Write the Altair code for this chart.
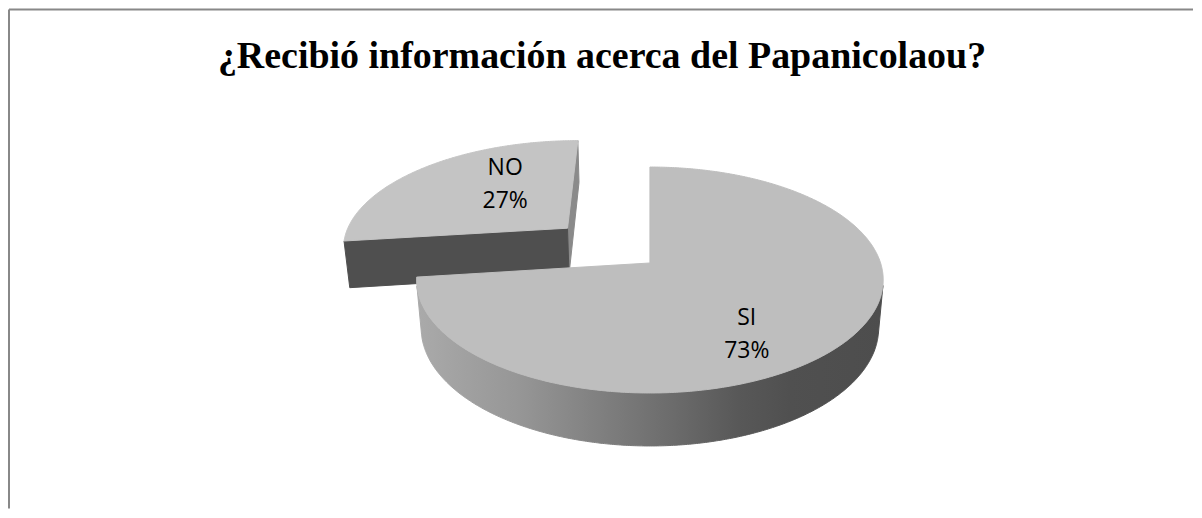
import numpy as np
import pandas as pd
import altair as alt

# ---- data ----
categories = ["SI", "NO"]
percents = [73, 27]
label_texts = ["SI\n73%", "NO\n27%"]
title_text = "¿Recibió información acerca del Papanicolaou?"

# ---- 3D pie geometry (style/layout) ----
explode = {"SI": 0.0, "NO": 0.5}          # radial explosion, radius units
PHI = np.radians(28.6)                      # camera elevation
DIST = 5.83                                 # camera distance (radius units)
FOC = 1347.0                                # focal length (px)
CX, CY = 650.0, 262.0                       # page position of pie centre
THICK = 0.24                                # pie thickness (radius units)

W, H = 1186, 500
XDOM = [8, 8 + W]
YDOM = [8, 8 + H]


def proj(X, Y, Z):
    depth = DIST + Y * np.cos(PHI) - Z * np.sin(PHI)
    up = Y * np.sin(PHI) + Z * np.cos(PHI)
    return CX + FOC * X / depth, CY - FOC * up / depth


rows = []


def add(pid, xs, ys):
    for k, (x, y) in enumerate(zip(xs, ys)):
        rows.append({"poly": pid, "i": k, "x": float(x), "y": float(y)})


cam_y = -DIST * np.cos(PHI)
start = 0.0
for cat, p in zip(categories, percents):
    a = start
    b = start + p / 100.0 * 360.0
    start = b
    mid = np.radians((a + b) / 2)
    e = explode[cat]
    ex, ey = e * np.sin(mid), e * np.cos(mid)
    th = np.radians(np.linspace(a, b, int((b - a) * 2) + 2))
    X = ex + np.sin(th)
    Y = ey + np.cos(th)
    # top face
    vx, vy = proj(np.array([ex]), np.array([ey]), np.array([0.0]))
    ax_, ay_ = proj(X, Y, np.zeros_like(X))
    add(cat + "_top", np.concatenate([vx, ax_]), np.concatenate([vy, ay_]))
    # visible rim
    vis = (-ex * np.sin(th) - 1 - (-cam_y + ey) * np.cos(th)) > 0
    if vis.sum() > 1:
        tv = th[vis]
        Xr = ex + np.sin(tv)
        Yr = ey + np.cos(tv)
        tx, ty = proj(Xr, Yr, np.zeros_like(Xr))
        bx, by = proj(Xr, Yr, np.full_like(Xr, -THICK))
        add(cat + "_rim", np.concatenate([tx, bx[::-1]]), np.concatenate([ty, by[::-1]]))
    # radial cut faces
    for tag, ang, sgn in (("cutA", np.radians(a), -1), ("cutB", np.radians(b), 1)):
        n = np.array([sgn * np.cos(ang), -sgn * np.sin(ang)])
        cvec = np.array([0 - ex, cam_y - ey])
        if n @ cvec > 1e-6:
            px = np.array([ex, ex + np.sin(ang), ex + np.sin(ang), ex])
            py = np.array([ey, ey + np.cos(ang), ey + np.cos(ang), ey])
            pz = np.array([0.0, 0.0, -THICK, -THICK])
            sx, sy = proj(px, py, pz)
            add(cat + "_" + tag, sx, sy)

polys = pd.DataFrame(rows)

xenc = alt.X("x:Q", scale=alt.Scale(domain=XDOM, nice=False, zero=False), axis=None)
yenc = alt.Y("y:Q", scale=alt.Scale(domain=YDOM, nice=False, zero=False, reverse=True), axis=None)

side_grad = alt.LinearGradient(
    gradient="linear",
    stops=[
        alt.GradientStop(color="#aaaaaa", offset=0.0),
        alt.GradientStop(color="#969696", offset=0.22),
        alt.GradientStop(color="#808080", offset=0.39),
        alt.GradientStop(color="#6a6a6a", offset=0.56),
        alt.GradientStop(color="#585858", offset=0.69),
        alt.GradientStop(color="#505050", offset=0.8),
        alt.GradientStop(color="#4d4d4d", offset=1.0),
    ],
    x1=0, x2=1, y1=0, y2=0,
)

styles = {
    "NO_cutA": ("#4f4f4f", "#4f4f4f"),
    "NO_cutB": ("#8a8a8a", "#8a8a8a"),
    "NO_rim": ("#4f4f4f", "#4f4f4f"),
    "NO_top": ("#c4c4c4", "#c4c4c4"),
    "SI_cutA": ("#4f4f4f", "#4f4f4f"),
    "SI_rim": (side_grad, side_grad),
    "SI_top": ("#bebebe", "#bebebe"),
}
order = ["NO_cutB", "NO_cutA", "NO_rim", "NO_top", "SI_cutA", "SI_rim", "SI_top"]

base = alt.Chart(polys)
layers = []
for pid in order:
    if pid not in set(polys["poly"]):
        continue
    fill, stroke = styles[pid]
    layers.append(
        base.transform_filter(alt.datum.poly == pid)
        .mark_line(fill=fill, stroke=stroke, strokeWidth=1, interpolate="linear-closed")
        .encode(x=xenc, y=yenc, order="i:Q")
    )

# labels
lab_x = {"SI": 747, "NO": 505}
lab_y = {"SI": 333, "NO": 183}
for cat, txt in zip(categories, label_texts):
    layers.append(
        alt.Chart(pd.DataFrame({"t": [txt]}))
        .mark_text(font="Open Sans", fontSize=23, color="#000000", align="center",
                   baseline="middle", lineBreak="\n", lineHeight=33)
        .encode(text="t:N", x=alt.value(lab_x[cat] - 8), y=alt.value(lab_y[cat] - 8 - 16))
    )

# title
layers.append(
    alt.Chart(pd.DataFrame({"t": [title_text]}))
    .mark_text(font="Liberation Serif", fontSize=38, fontWeight="bold", color="#000000",
               align="center", baseline="alphabetic")
    .encode(text="t:N", x=alt.value(602 - 8), y=alt.value(67 - 8))
)

# frame (left and top edges)
layers.append(
    alt.Chart(pd.DataFrame({"k": [0]})).mark_rule(color="#888888", strokeWidth=2)
    .encode(x=alt.value(0), y=alt.value(0), y2=alt.value(H))
)
layers.append(
    alt.Chart(pd.DataFrame({"k": [0]})).mark_rule(color="#888888", strokeWidth=2)
    .encode(x=alt.value(0), x2=alt.value(W), y=alt.value(0))
)

chart = (
    alt.layer(*layers)
    .properties(width=W, height=H, padding=0, background="white")
    .configure_view(stroke=None)
)

chart.save("out.html", embed_options={"renderer": "svg", "actions": False})
